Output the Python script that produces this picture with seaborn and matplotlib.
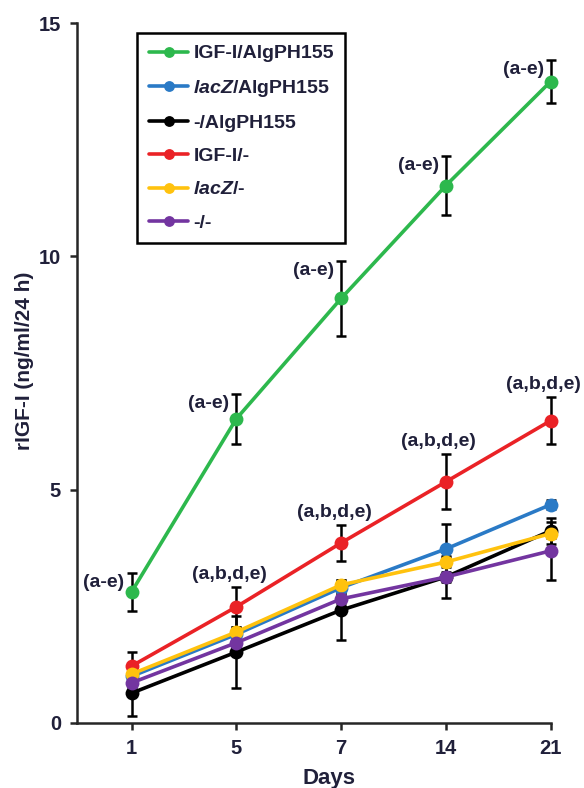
import numpy as np
import pandas as pd
import seaborn as sns
import matplotlib.pyplot as plt

# ── data ───────────────────────────────────────────────────────────────────
days = ["1", "5", "7", "14", "21"]
series = ["IGF-I/AlgPH155", "lacZ/AlgPH155", "-/AlgPH155", "IGF-I/-", "lacZ/-", "-/-"]

igf_alg = [2.81, 6.52, 9.10, 11.52, 13.75]
igf_alg_sd = [0.40, 0.53, 0.80, 0.63, 0.47]
lacz_alg = [1.00, 1.90, 2.90, 3.73, 4.68]
lacz_alg_sd = [0.10, 0.12, 0.12, 0.54, 0.10]
neg_alg = [0.64, 1.52, 2.42, 3.13, 4.12]
neg_alg_sd = [0.49, 0.77, 0.64, 0.45, 0.28]
igf_neg = [1.22, 2.49, 3.86, 5.17, 6.48]
igf_neg_sd = [0.30, 0.43, 0.38, 0.59, 0.50]
lacz_neg = [1.05, 1.95, 2.96, 3.45, 4.06]
lacz_neg_sd = [0.10, 0.10, 0.10, 0.10, 0.10]
neg_neg = [0.86, 1.72, 2.66, 3.13, 3.69]
neg_neg_sd = [0.10, 0.10, 0.10, 0.10, 0.62]

green_labels = ["(a-e)"] * 5
red_labels = [None, "(a,b,d,e)", "(a,b,d,e)", "(a,b,d,e)", "(a,b,d,e)"]

colors = ["#2db84d", "#2a7ac6", "#000000", "#ea2226", "#ffc20e", "#7335a0"]
legend_names = ["IGF-I/AlgPH155", r"$\mathit{lacZ}$/AlgPH155", "-/AlgPH155",
                "IGF-I/-", r"$\mathit{lacZ}$/-", "-/-"]

means = [igf_alg, lacz_alg, neg_alg, igf_neg, lacz_neg, neg_neg]
sds = [igf_alg_sd, lacz_alg_sd, neg_alg_sd, igf_neg_sd, lacz_neg_sd, neg_neg_sd]

pos = np.arange(len(days))
df = pd.DataFrame({
    "pos": np.tile(pos, len(series)),
    "value": np.concatenate(means),
    "sd": np.concatenate(sds),
    "group": np.repeat(legend_names, len(days)),
})

# ── style ──────────────────────────────────────────────────────────────────
sns.set_style("ticks")
txt = "#20203a"
plt.rcParams["font.family"] = ["Liberation Sans", "DejaVu Sans"]
plt.rcParams["font.weight"] = "bold"
plt.rcParams["mathtext.fontset"] = "custom"
plt.rcParams["mathtext.it"] = "Liberation Sans:bold:italic"
plt.rcParams["mathtext.rm"] = "Liberation Sans:bold"

fig = plt.figure(figsize=(5.84, 7.88), dpi=100)
ax = fig.add_axes([0.132, 0.0825, 0.861, 0.888])

# error bars under the lines
ax.errorbar(df["pos"], df["value"], yerr=df["sd"], fmt="none", ecolor="black",
            elinewidth=1.8, capsize=3.5, capthick=1.8, zorder=2)

sns.lineplot(data=df, x="pos", y="value", hue="group", palette=colors,
             hue_order=legend_names, marker="o", markersize=10,
             markeredgewidth=0, linewidth=2.6, ax=ax, zorder=3,
             errorbar=None, sort=False)

# significance labels
for i in range(len(days)):
    top = igf_alg[i] + igf_alg_sd[i]
    ax.annotate(green_labels[i], (pos[i], top), xytext=(-5, -7),
                textcoords="offset points", ha="right", va="center",
                fontsize=14, fontweight="bold", color=txt)
    if red_labels[i]:
        top = igf_neg[i] + igf_neg_sd[i]
        ax.annotate(red_labels[i], (pos[i], top), xytext=(-5, 3),
                    textcoords="offset points", ha="center", va="bottom",
                    fontsize=14, fontweight="bold", color=txt)

# ── axes ───────────────────────────────────────────────────────────────────
ax.set_xlim(-0.52, 4.28)
ax.set_ylim(0, 15)
ax.set_xticks(pos)
ax.set_xticklabels(days)
ax.set_yticks([0, 5, 10, 15])
ax.spines["bottom"].set_bounds(-0.52, 4)
sns.despine(ax=ax)
for s in ["left", "bottom"]:
    ax.spines[s].set_linewidth(1.8)
ax.tick_params(axis="both", length=5, width=1.8, labelsize=14.5,
               labelcolor=txt, pad=6.5)
for lbl in ax.get_xticklabels() + ax.get_yticklabels():
    lbl.set_fontweight("bold")
ax.set_xlabel("Days", fontsize=16, fontweight="bold", color=txt, labelpad=7)
ax.set_ylabel("rIGF-I (ng/ml/24 h)", fontsize=15, fontweight="bold", color=txt)
ax.yaxis.set_label_coords(-0.086, 0.517)

leg = ax.legend(loc="upper left", bbox_to_anchor=(0.119, 0.986),
                borderaxespad=0, frameon=True, fancybox=False, framealpha=1,
                fontsize=14, handlelength=2.05, handletextpad=0.25,
                labelspacing=0.8, borderpad=0.6, markerscale=0.78)
leg.get_frame().set_edgecolor("black")
leg.get_frame().set_linewidth(1.8)
for t in leg.get_texts():
    t.set_color(txt)
    t.set_fontweight("bold")

fig.savefig("out.png", dpi=100)
